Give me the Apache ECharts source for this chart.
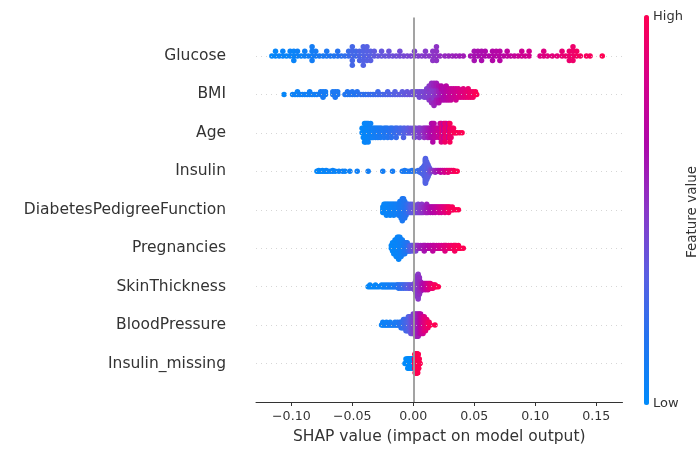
<!DOCTYPE html>
<html><head><meta charset="utf-8">
<script src="https://cdn.jsdelivr.net/npm/echarts@6/dist/echarts.min.js"></script>
<style>html,body{margin:0;padding:0;background:#fff}#c{width:698px;height:450px}</style>
</head><body><div id="c"></div>
<script>
// Feature names, top to bottom
const features = ['Glucose','BMI','Age','Insulin','DiabetesPedigreeFunction','Pregnancies','SkinThickness','BloodPressure','Insulin_missing'];
const xTicks = [-0.10,-0.05,0.00,0.05,0.10,0.15];

// Each entry: [SHAP value, normalised feature value (0 = low, 1 = high), number of samples at that value]
const glucose = [[-0.116,0.02,1],[-0.113,0.03,2],[-0.110,0.04,1],[-0.107,0.05,2],[-0.104,0.04,1],[-0.101,0.06,2],[-0.098,0.05,3],[-0.095,0.07,2],[-0.092,0.06,1],[-0.089,0.08,2],[-0.086,0.09,1],[-0.083,0.1,4],[-0.080,0.11,2],[-0.077,0.12,1],[-0.074,0.12,1],[-0.071,0.14,2],[-0.068,0.15,1],[-0.065,0.16,1],[-0.062,0.18,2],[-0.059,0.19,1],[-0.056,0.21,1],[-0.053,0.23,2],[-0.050,0.27,5],[-0.047,0.26,2],[-0.044,0.29,3],[-0.041,0.31,5],[-0.038,0.32,4],[-0.035,0.33,3],[-0.032,0.35,2],[-0.029,0.36,1],[-0.026,0.37,2],[-0.023,0.38,1],[-0.020,0.39,2],[-0.017,0.4,1],[-0.014,0.41,1],[-0.011,0.42,2],[-0.008,0.43,1],[-0.005,0.44,1],[-0.002,0.45,1],[0.001,0.46,2],[0.004,0.47,1],[0.007,0.48,1],[0.010,0.49,2],[0.013,0.5,1],[0.016,0.51,3],[0.019,0.52,4],[0.022,0.54,1],[0.026,0.55,1],[0.029,0.56,1],[0.032,0.57,1],[0.035,0.58,1],[0.038,0.59,1],[0.041,0.6,1],[0.047,0.62,1],[0.050,0.63,3],[0.053,0.64,2],[0.056,0.65,3],[0.059,0.66,2],[0.062,0.67,1],[0.065,0.68,3],[0.068,0.69,2],[0.071,0.7,3],[0.074,0.71,1],[0.077,0.73,2],[0.080,0.74,1],[0.083,0.75,1],[0.086,0.78,1],[0.089,0.79,2],[0.092,0.8,1],[0.095,0.81,2],[0.104,0.85,1],[0.107,0.86,2],[0.110,0.87,1],[0.114,0.88,1],[0.118,0.89,1],[0.122,0.9,2],[0.125,0.91,1],[0.128,0.92,3],[0.131,0.93,4],[0.134,0.95,2],[0.137,0.96,1],[0.142,0.97,1],[0.145,0.97,1],[0.155,1.0,1]];

const bmi = [[-0.106,0.03,1],[-0.099,0.06,1],[-0.097,0.07,1],[-0.095,0.06,2],[-0.093,0.08,1],[-0.091,0.07,1],[-0.089,0.08,1],[-0.087,0.09,1],[-0.085,0.08,2],[-0.083,0.1,1],[-0.081,0.09,1],[-0.079,0.1,1],[-0.076,0.11,2],[-0.074,0.12,3],[-0.072,0.11,2],[-0.066,0.13,2],[-0.064,0.14,3],[-0.062,0.13,2],[-0.056,0.15,1],[-0.054,0.16,2],[-0.052,0.15,1],[-0.050,0.17,2],[-0.048,0.16,1],[-0.046,0.18,2],[-0.043,0.2,1],[-0.041,0.21,1],[-0.039,0.2,1],[-0.037,0.22,1],[-0.035,0.23,1],[-0.033,0.22,1],[-0.031,0.24,1],[-0.029,0.25,2],[-0.027,0.26,1],[-0.025,0.27,1],[-0.023,0.28,1],[-0.021,0.29,2],[-0.019,0.3,1],[-0.017,0.31,1],[-0.015,0.32,2],[-0.013,0.33,1],[-0.011,0.34,1],[-0.009,0.35,2],[-0.007,0.36,1],[-0.005,0.37,2],[-0.003,0.38,1],[-0.001,0.39,2],[0.001,0.4,2],[0.003,0.41,2],[0.005,0.42,3],[0.007,0.43,2],[0.009,0.44,3],[0.011,0.46,4],[0.013,0.47,3],[0.013,0.5,3],[0.015,0.48,4],[0.015,0.54,4],[0.017,0.5,5],[0.017,0.57,4],[0.019,0.53,4],[0.019,0.6,4],[0.021,0.58,4],[0.021,0.64,3],[0.023,0.62,3],[0.023,0.68,3],[0.025,0.66,5],[0.027,0.7,6],[0.029,0.73,5],[0.031,0.76,5],[0.033,0.78,4],[0.035,0.8,5],[0.037,0.83,4],[0.039,0.85,3],[0.041,0.87,4],[0.043,0.89,3],[0.045,0.91,4],[0.047,0.93,3],[0.049,0.95,3],[0.051,0.98,2],[0.052,1.0,1]];

const age = [[-0.042,0.02,2],[-0.041,0.03,3],[-0.040,0.02,5],[-0.039,0.04,5],[-0.038,0.03,4],[-0.037,0.05,5],[-0.036,0.04,3],[-0.035,0.06,4],[-0.034,0.07,3],[-0.033,0.08,3],[-0.032,0.09,2],[-0.031,0.1,3],[-0.030,0.1,2],[-0.029,0.11,3],[-0.028,0.12,2],[-0.027,0.12,3],[-0.026,0.13,2],[-0.025,0.14,1],[-0.024,0.14,3],[-0.023,0.15,2],[-0.022,0.16,2],[-0.021,0.16,3],[-0.020,0.17,1],[-0.019,0.18,2],[-0.018,0.19,3],[-0.017,0.2,2],[-0.016,0.21,1],[-0.015,0.22,2],[-0.014,0.23,3],[-0.013,0.24,2],[-0.012,0.25,1],[-0.011,0.26,2],[-0.010,0.27,2],[-0.009,0.28,1],[-0.008,0.3,3],[-0.007,0.31,2],[-0.006,0.32,1],[-0.005,0.33,2],[-0.004,0.35,2],[-0.003,0.36,1],[-0.002,0.38,2],[-0.001,0.39,1],[0.000,0.4,2],[0.001,0.42,3],[0.002,0.43,2],[0.003,0.44,1],[0.004,0.46,2],[0.005,0.47,3],[0.006,0.49,2],[0.007,0.5,1],[0.008,0.52,2],[0.009,0.54,3],[0.010,0.56,2],[0.011,0.58,2],[0.012,0.6,3],[0.013,0.62,2],[0.014,0.64,3],[0.015,0.66,4],[0.016,0.68,5],[0.017,0.7,4],[0.018,0.72,3],[0.019,0.74,2],[0.020,0.76,2],[0.021,0.8,3],[0.022,0.72,4],[0.023,0.86,5],[0.024,0.9,3],[0.025,0.7,4],[0.026,0.94,5],[0.027,0.88,4],[0.028,0.96,3],[0.029,0.74,4],[0.030,0.98,5],[0.031,0.92,3],[0.032,0.95,2],[0.033,0.97,2],[0.034,0.99,1],[0.035,0.96,1],[0.036,1.0,1],[0.038,0.98,1],[0.040,1.0,1]];

const insulin = [[-0.079,0.02,1],[-0.0775,0.03,2],[-0.076,0.02,1],[-0.0745,0.04,2],[-0.073,0.03,1],[-0.0715,0.04,2],[-0.070,0.05,1],[-0.068,0.05,1],[-0.066,0.06,2],[-0.064,0.05,1],[-0.061,0.06,1],[-0.058,0.07,1],[-0.056,0.06,1],[-0.052,0.07,1],[-0.046,0.08,1],[-0.037,0.09,1],[-0.025,0.1,1],[-0.017,0.11,1],[-0.009,0.12,1],[-0.007,0.13,2],[-0.005,0.12,1],[-0.003,0.14,1],[-0.001,0.15,2],[0.001,0.17,1],[0.004,0.22,2],[0.0055,0.24,3],[0.007,0.26,6],[0.008,0.28,8],[0.009,0.3,12],[0.010,0.31,16],[0.011,0.32,20],[0.012,0.33,14],[0.013,0.35,8],[0.014,0.4,4],[0.015,0.45,2],[0.0165,0.5,2],[0.018,0.55,3],[0.0195,0.6,2],[0.021,0.65,2],[0.0225,0.7,3],[0.024,0.75,2],[0.0255,0.8,3],[0.027,0.84,2],[0.0285,0.88,3],[0.030,0.9,2],[0.0315,0.93,2],[0.033,0.95,2],[0.0345,0.98,1],[0.036,1.0,1]];

const dpf = [[-0.025,0.03,3],[-0.024,0.04,4],[-0.023,0.03,4],[-0.022,0.05,5],[-0.021,0.04,4],[-0.020,0.06,4],[-0.019,0.05,5],[-0.018,0.07,4],[-0.017,0.06,4],[-0.016,0.08,5],[-0.015,0.07,4],[-0.014,0.09,4],[-0.013,0.08,4],[-0.012,0.1,5],[-0.011,0.11,6],[-0.010,0.12,7],[-0.009,0.13,9],[-0.008,0.15,8],[-0.007,0.16,7],[-0.006,0.18,5],[-0.005,0.2,4],[-0.004,0.23,4],[-0.003,0.26,3],[-0.002,0.3,4],[-0.001,0.33,3],[0.000,0.36,4],[0.001,0.38,3],[0.002,0.4,3],[0.003,0.42,3],[0.004,0.44,4],[0.005,0.46,3],[0.006,0.48,3],[0.007,0.5,4],[0.008,0.52,3],[0.009,0.54,2],[0.010,0.56,3],[0.011,0.58,4],[0.012,0.6,3],[0.013,0.62,2],[0.014,0.64,3],[0.015,0.66,2],[0.016,0.68,3],[0.017,0.7,2],[0.018,0.72,3],[0.019,0.74,2],[0.020,0.76,2],[0.021,0.78,3],[0.022,0.8,2],[0.023,0.82,3],[0.024,0.84,2],[0.025,0.86,2],[0.026,0.88,3],[0.027,0.9,2],[0.028,0.92,2],[0.029,0.94,3],[0.030,0.95,2],[0.031,0.96,1],[0.032,0.97,2],[0.033,0.98,1],[0.035,0.99,1],[0.037,1.0,1]];

const pregnancies = [[-0.018,0.02,2],[-0.017,0.03,4],[-0.016,0.02,5],[-0.015,0.04,6],[-0.014,0.03,7],[-0.013,0.05,8],[-0.012,0.04,9],[-0.011,0.06,8],[-0.010,0.07,7],[-0.009,0.08,6],[-0.008,0.1,5],[-0.007,0.12,5],[-0.006,0.14,4],[-0.005,0.17,4],[-0.004,0.2,3],[-0.003,0.25,3],[-0.002,0.3,3],[-0.001,0.34,2],[0.000,0.38,3],[0.001,0.42,2],[0.002,0.46,3],[0.003,0.5,2],[0.004,0.54,2],[0.005,0.56,1],[0.006,0.58,2],[0.007,0.6,1],[0.008,0.62,2],[0.009,0.63,3],[0.010,0.64,2],[0.011,0.66,1],[0.012,0.67,2],[0.013,0.68,1],[0.014,0.7,2],[0.015,0.71,1],[0.016,0.72,3],[0.017,0.74,2],[0.018,0.75,1],[0.019,0.76,2],[0.020,0.78,1],[0.021,0.79,2],[0.022,0.8,1],[0.023,0.82,2],[0.024,0.84,1],[0.025,0.85,2],[0.026,0.86,3],[0.027,0.88,2],[0.028,0.89,1],[0.029,0.9,2],[0.030,0.92,1],[0.031,0.93,2],[0.032,0.94,1],[0.033,0.95,2],[0.034,0.96,3],[0.035,0.97,2],[0.036,0.98,1],[0.037,0.98,2],[0.038,0.99,1],[0.039,1.0,1],[0.041,1.0,1]];

const skinThickness = [[-0.037,0.02,1],[-0.0355,0.03,2],[-0.034,0.02,1],[-0.0325,0.04,1],[-0.031,0.03,2],[-0.0295,0.04,1],[-0.028,0.05,1],[-0.026,0.05,2],[-0.025,0.06,1],[-0.024,0.06,2],[-0.023,0.07,1],[-0.022,0.08,2],[-0.021,0.08,1],[-0.020,0.09,2],[-0.019,0.1,1],[-0.018,0.1,2],[-0.017,0.11,1],[-0.016,0.12,2],[-0.015,0.13,1],[-0.014,0.14,2],[-0.013,0.16,2],[-0.012,0.18,3],[-0.011,0.2,2],[-0.010,0.21,3],[-0.009,0.23,2],[-0.008,0.25,3],[-0.007,0.27,2],[-0.006,0.29,3],[-0.005,0.31,2],[-0.004,0.33,3],[-0.003,0.35,3],[-0.002,0.37,2],[-0.001,0.39,3],[0.000,0.41,3],[0.001,0.43,5],[0.002,0.45,9],[0.003,0.47,14],[0.004,0.5,17],[0.005,0.53,12],[0.006,0.56,7],[0.007,0.6,4],[0.008,0.64,5],[0.009,0.68,4],[0.010,0.72,5],[0.011,0.76,4],[0.012,0.8,5],[0.013,0.84,4],[0.014,0.88,4],[0.015,0.9,3],[0.016,0.93,3],[0.017,0.95,2],[0.018,0.97,2],[0.019,0.98,1],[0.0205,1.0,1]];

const bloodPressure = [[-0.026,0.05,1],[-0.025,0.07,2],[-0.024,0.06,1],[-0.023,0.08,1],[-0.022,0.07,2],[-0.021,0.09,1],[-0.020,0.1,1],[-0.019,0.09,2],[-0.018,0.11,1],[-0.017,0.12,1],[-0.016,0.11,1],[-0.015,0.13,2],[-0.014,0.12,1],[-0.013,0.14,2],[-0.012,0.15,1],[-0.011,0.16,2],[-0.010,0.18,3],[-0.009,0.2,3],[-0.008,0.22,4],[-0.007,0.24,4],[-0.006,0.26,5],[-0.005,0.28,5],[-0.004,0.3,6],[-0.003,0.33,6],[-0.002,0.36,7],[-0.001,0.4,7],[0.000,0.44,8],[0.001,0.48,8],[0.002,0.52,9],[0.003,0.56,9],[0.004,0.6,9],[0.005,0.64,8],[0.006,0.7,8],[0.007,0.75,7],[0.008,0.8,7],[0.009,0.85,6],[0.010,0.88,5],[0.011,0.9,4],[0.012,0.93,3],[0.013,0.96,2],[0.014,0.98,1],[0.0178,1.0,1]];

const insulinMissing = [[-0.0068,0,1],[-0.006,0,2],[-0.0055,0,1],[-0.005,0,2],[-0.0045,0,3],[-0.004,0,2],[-0.0035,0,3],[-0.003,0,2],[-0.0025,0,3],[-0.002,0,2],[-0.0015,0,3],[-0.001,0,2],[-0.0005,0,2],[0.000,0,3],[0.0005,0,2],[0.0010,1,2],[0.0012,1,3],[0.0014,1,4],[0.0016,1,5],[0.0018,1,5],[0.0020,1,5],[0.0022,1,5],[0.0024,1,5],[0.0026,1,5],[0.0028,1,5],[0.0030,1,5],[0.0032,1,5],[0.0034,1,5],[0.0036,1,5],[0.0038,1,4],[0.0040,1,4],[0.0042,1,3],[0.0044,1,3],[0.0046,1,2],[0.0048,1,2],[0.0050,1,1],[0.0052,1,1],[0.0055,1,1]];

const rows = [glucose, bmi, age, insulin, dpf, pregnancies, skinThickness, bloodPressure, insulinMissing];

// Beeswarm vertical layout (same binning/stacking rule as shap's summary plot)
function swarmOffsets(vals){
  const n = vals.length;
  const mn = Math.min(...vals), mx = Math.max(...vals);
  const q = vals.map(v => Math.round(100 * (v - mn) / (mx - mn + 1e-8)));
  const idx = vals.map((_, i) => i).sort((a, b) => (q[a] - q[b]) || (a - b));
  const ys = new Array(n).fill(0);
  let layer = 0, last = -1;
  for (const i of idx) {
    if (q[i] !== last) layer = 0;
    ys[i] = Math.ceil(layer / 2) * ((layer % 2) * 2 - 1);
    layer++; last = q[i];
  }
  const m = Math.max(...ys) + 1;
  return ys.map(y => y * 0.9 * 0.4 / m);
}

const nRows = features.length;
const points = [];
rows.forEach((row, k) => {
  const pos = nRows - 1 - k;
  const samples = [];
  row.forEach(([v, f, n]) => { for (let j = 0; j < n; j++) samples.push([v, f]); });
  const offs = swarmOffsets(samples.map(p => p[0]));
  samples.forEach((p, i) => points.push([p[0], pos + offs[i], p[1]]));
});

const FONT = 'DejaVu Sans';
const TXT = '#333333';
const fmt = v => (Math.abs(v) < 1e-9 ? '0.00' : v.toFixed(2).replace('-', '\u2212'));
const rowPositions = features.map((_, i) => i);

const chart = echarts.init(document.getElementById('c'), null, {renderer: 'canvas'});
chart.setOption({
  animation: false,
  backgroundColor: '#ffffff',
  grid: {left: 256, right: 75.5, top: 17.5, bottom: 45, containLabel: false},
  xAxis: {
    type: 'value', min: -0.129, max: 0.1716,
    name: 'SHAP value (impact on model output)', nameLocation: 'middle', nameGap: 27,
    nameTextStyle: {fontFamily: FONT, fontSize: 15.5, color: TXT},
    axisLine: {show: true, onZero: false, lineStyle: {color: TXT, width: 1}},
    axisTick: {show: true, customValues: xTicks, length: 4, lineStyle: {color: TXT, width: 1}},
    axisLabel: {customValues: xTicks, formatter: fmt, fontFamily: FONT, fontSize: 12.6, color: TXT, margin: 8},
    splitLine: {show: false}
  },
  yAxis: {
    type: 'value', min: -1, max: nRows,
    axisLine: {show: false, onZero: false}, axisTick: {show: false}, splitLine: {show: false},
    axisLabel: {customValues: rowPositions, formatter: v => features[nRows - 1 - Math.round(v)],
      fontFamily: FONT, fontSize: 15.5, color: TXT, margin: 30}
  },
  visualMap: {
    type: 'continuous', dimension: 2, min: 0, max: 1, seriesIndex: 1,
    orient: 'vertical', left: 644, top: 15, itemWidth: 5, itemHeight: 390, padding: 0,
    calculable: false, text: null, showLabel: false, hoverLink: false,
    inRange: {color: ['#008bfb','#2274f0','#5a5fe2','#8a38c8','#ae08aa','#d6008a','#ff0052']}
  },
  series: [
    {
      type: 'scatter', data: [], silent: true, z: 1,
      markLine: {
        silent: true, symbol: ['none','none'], label: {show: false}, animation: false,
        data: rowPositions.map(p => ({yAxis: p, lineStyle: {color: '#cccccc', width: 0.8, type: [1, 4]}}))
          .concat([{xAxis: 0, lineStyle: {color: '#999999', width: 1.8, type: 'solid'}}])
      }
    },
    {
      type: 'scatter', data: points, symbol: 'circle', symbolSize: 5.5, z: 3,
      itemStyle: {opacity: 1}
    }
  ],
  graphic: [
    {type: 'text', left: 653, top: 10, style: {text: 'High', fontFamily: FONT, fontSize: 13, fill: TXT}},
    {type: 'text', left: 653, top: 397, style: {text: 'Low', fontFamily: FONT, fontSize: 13, fill: TXT}},
    {type: 'text', x: 692, y: 212, rotation: Math.PI / 2,
      style: {text: 'Feature value', fontFamily: FONT, fontSize: 13.5, fill: TXT, align: 'center', verticalAlign: 'middle'}}
  ]
});
</script>
</body></html>
